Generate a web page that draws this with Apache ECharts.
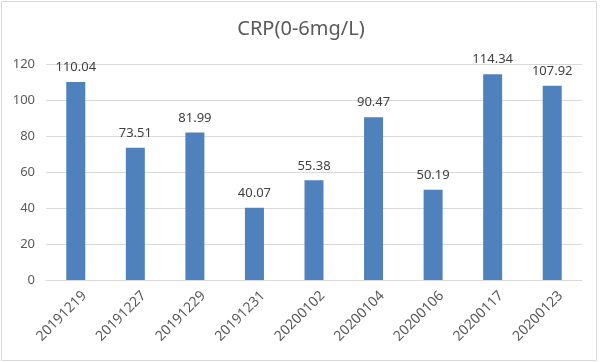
<!DOCTYPE html>
<html>
<head>
<meta charset="utf-8">
<script src="https://cdn.jsdelivr.net/npm/echarts@6/dist/echarts.min.js"></script>
<style>html,body{margin:0;padding:0;background:#fff;}#c{width:602px;height:362px;}</style>
</head>
<body>
<div id="c"></div>
<script>
const categories = ['20191219','20191227','20191229','20191231','20200102','20200104','20200106','20200117','20200123'];
const values = [110.04, 73.51, 81.99, 40.07, 55.38, 90.47, 50.19, 114.34, 107.92];
const yTicks = [0, 20, 40, 60, 80, 100, 120];

const chart = echarts.init(document.getElementById('c'), null, {renderer: 'canvas'});
const font = '"Noto Sans", sans-serif';
chart.setOption({
  animation: false,
  backgroundColor: '#fff',
  title: {
    text: 'CRP(0-6mg/L)',
    left: 'center',
    top: 14,
    textStyle: {fontFamily: font, fontSize: 20, fontWeight: 'normal', color: '#595959'}
  },
  graphic: [{
    type: 'rect',
    shape: {x: 1.5, y: 1.5, width: 595, height: 359},
    style: {fill: 'none', stroke: '#d9d9d9', lineWidth: 1},
    silent: true
  }],
  grid: {left: 46, right: 20, top: 64, bottom: 82, containLabel: false},
  xAxis: {
    type: 'category',
    data: categories,
    axisTick: {show: false},
    axisLine: {lineStyle: {color: '#d9d9d9'}},
    axisLabel: {rotate: 45, fontFamily: font, fontSize: 14, color: '#595959', margin: 22, padding: [0, -12, 0, 0], interval: 0}
  },
  yAxis: {
    type: 'value',
    min: yTicks[0],
    max: yTicks[yTicks.length - 1],
    interval: 20,
    axisLine: {show: false},
    axisTick: {show: false},
    splitLine: {lineStyle: {color: '#d9d9d9'}},
    axisLabel: {fontFamily: font, fontSize: 13, color: '#595959', margin: 11}
  },
  series: [{
    type: 'bar',
    data: values,
    barWidth: 19,
    itemStyle: {color: '#4f81bd'},
    label: {show: true, position: 'top', distance: 8, fontFamily: font, fontSize: 13, color: '#404040'}
  }]
});
</script>
</body>
</html>
